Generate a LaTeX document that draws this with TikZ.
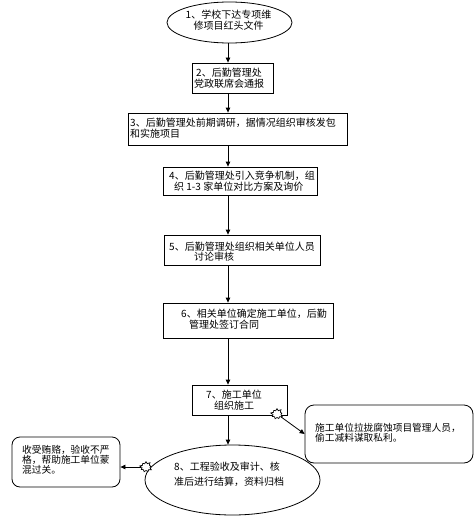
\documentclass[tikz,border=0pt]{standalone}
\usepackage{fontspec}
\newfontfamily\cjk{Noto Sans CJK SC}
\usetikzlibrary{shapes.geometric,shapes.symbols,arrows.meta}
\begin{document}
\begin{tikzpicture}[x=1pt,y=-1pt,
  shp/.style={draw,line width=0.8pt,inner sep=0pt},
  sq/.style={shp,rectangle,minimum width=#1},
  ell/.style={shp,ellipse},
  rbox/.style={shp,rectangle,rounded corners=9pt},
  txt/.style={inner sep=0pt,font={\cjk\fontsize{10}{10.5}\selectfont}},
  arr/.style={line width=0.8pt,-{Triangle[length=5pt,width=4.5pt]}},
  burst/.style={draw,line width=0.7pt,fill=white,starburst,starburst points=9,starburst point height=2.5pt,minimum width=13pt,minimum height=12pt,inner sep=0pt}]
\useasboundingbox (0,0) rectangle (476,519);
\coordinate (ax) at (228,0);
% shapes
\node[ell,minimum width=125pt,minimum height=41pt] (e1) at (229.5,22.5) {};
\node[sq=81pt,minimum height=30pt] (b2) at (232.5,78) {};
\node[sq=219pt,minimum height=32pt] (b3) at (237.5,129) {};
\node[sq=154pt,minimum height=28pt] (b4) at (240,181) {};
\node[sq=156pt,minimum height=30pt] (b5) at (242,250) {};
\node[sq=170pt,minimum height=35pt] (b6) at (248,320.5) {};
\node[sq=95pt,minimum height=30pt] (b7) at (239.5,400) {};
\node[ell,minimum width=175pt,minimum height=70pt] (e8) at (232.5,480) {};
\node[rbox,minimum width=168pt,minimum height=58pt] (rb) at (389,434) {};
\node[rbox,rounded corners=8pt,minimum width=108pt,minimum height=50pt] (lb) at (66,462) {};
% texts
\node[txt,align=center] (t1) at (228.5,20) {1、学校下达专项维\\修项目红头文件};
\node[txt,align=center] (t2) at (229,78) {2、后勤管理处\\党政联席会通报};
\node[txt,align=left,anchor=west] (t3) at (130,128) {3、后勤管理处前期调研，据情况组织审核发包\\和实施项目};
\node[txt,align=left,anchor=west] (t4) at (169,181) {4、后勤管理处引入竞争机制，组\\\hspace{0.5em}织 1-3 家单位对比方案及询价};
\node[txt,align=left,anchor=west] (t5) at (169,251.5) {5、后勤管理处组织相关单位人员\\\hspace{2.5em}讨论审核};
\node[txt,align=left,anchor=west] (t6) at (181,319) {6、相关单位确定施工单位，后勤\\\hspace{0.8em}管理处签订合同};
\node[txt,align=center] (t7) at (234,400) {7、施工单位\\组织施工};
\node[txt,align=left,anchor=west,font={\cjk\fontsize{9.7}{10}\selectfont}] (t9) at (315,432.5) {施工单位拉拢腐蚀项目管理人员，\\偷工减料谋取私利。};
\node[txt,align=left,anchor=west,font={\cjk\fontsize{9.7}{10}\selectfont}] (t10) at (22,460) {收受贿赂，验收不严\\格，帮助施工单位蒙\\混过关。};
\node[txt,align=left,anchor=west,font={\cjk\fontsize{10}{15}\selectfont}] (t8) at (174,474) {8、工程验收及审计、核\\准后进行结算，资料归档};
% arrows
\draw[arr] (ax |- e1.south) -- (ax |- b2.north);
\draw[arr] (ax |- b2.south) -- (ax |- b3.north);
\draw[arr] (ax |- b3.south) -- (ax |- b4.north);
\draw[arr] (ax |- b4.south) -- (ax |- b5.north);
\draw[arr] (ax |- b5.south) -- (ax |- b6.north);
\draw[arr] (ax |- b6.south) -- (ax |- b7.north);
\draw[arr] (ax |- b7.south) -- (ax |- e8.north);
% starbursts
\node[burst] (s1) at (277,414) {};
\node[burst] (s2) at (146,467) {};
\draw[arr] (s1) -- (rb.west);
\draw[arr] (s2.west) -- (s2.west -| lb.east);
\end{tikzpicture}
\end{document}
